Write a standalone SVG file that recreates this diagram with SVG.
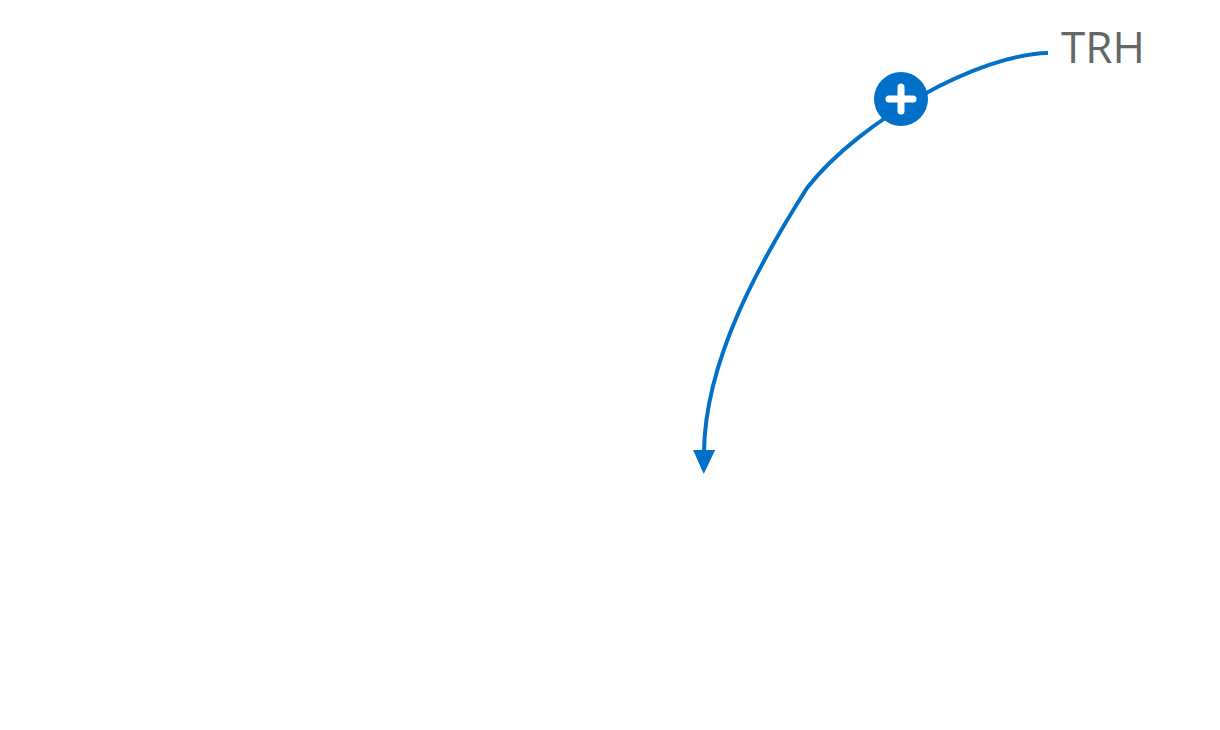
<svg xmlns="http://www.w3.org/2000/svg" width="1220" height="730" viewBox="0 0 1220 730">
<defs>
<style>
.conn{fill:none;stroke:#0070C8;stroke-width:4}
.lbl{font-family:"Open Sans","Noto Sans",sans-serif;font-size:44px;fill:#666666}
</style>
<marker id="arr" markerUnits="userSpaceOnUse" markerWidth="24" markerHeight="22" refX="2" refY="11" orient="auto" viewBox="0 0 24 22">
<path d="M0,0 L24,11 L0,22 Z" fill="#0070C8"/>
</marker>
</defs>
<rect width="1220" height="730" fill="#ffffff"/>
<g id="connectors">
<path class="conn" d="M1048,53 C980,54 860,120 807,188 C760,262 705,360 704,452" marker-end="url(#arr)"/>
</g>
<g id="plus">
<circle cx="901" cy="99" r="27" fill="#0070C8"/>
<path d="M889,99 H913 M901,87 V111" stroke="#ffffff" stroke-width="7" stroke-linecap="round"/>
</g>
<g id="trh">
<text class="lbl" x="1061" y="63">TRH</text>
</g>
</svg>
